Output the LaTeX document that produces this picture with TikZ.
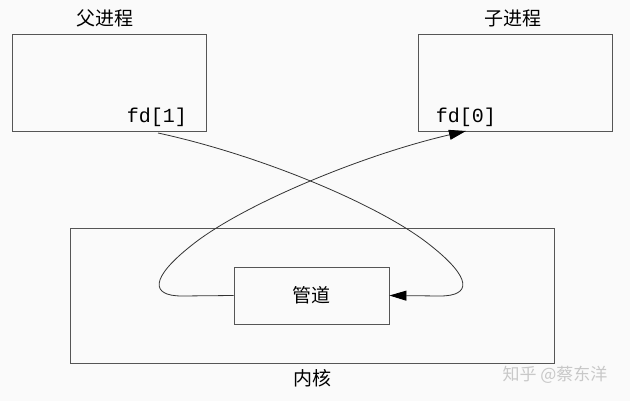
\documentclass[tikz,border=0pt]{standalone}
\usepackage{fontspec}
\setmonofont{Liberation Mono}
\newfontfamily\cjk{Noto Sans CJK SC}
\usetikzlibrary{arrows.meta}
\definecolor{bg}{HTML}{FAFAFA}
\definecolor{edge}{HTML}{555555}
\definecolor{mark}{HTML}{C8C8C8}
\begin{document}
\begin{tikzpicture}[x=1pt,y=-1pt,
  box/.style={draw=edge,line width=0.9pt},
  cn/.style={font=\cjk\fontsize{19}{22}\selectfont,inner sep=0pt},
  fdtxt/.style={font=\ttfamily\fontsize{20}{22}\selectfont,inner sep=0pt},
  flow/.style={draw=black!80,line width=0.8pt},
  tip/.style={-{Triangle[length=17pt,width=10pt,color=black]}}]
  \fill[bg] (0,0) rectangle (630,401);
  \useasboundingbox (0,0) rectangle (630,401);
  % process boxes
  \draw[box] (12,34) rectangle (206,131);
  \draw[box] (418,34) rectangle (612,131);
  \node[cn] (parent) at (105,18) {父进程};
  \node[cn] (child) at (513,18) {子进程};
  \node[fdtxt] (fd1) at (157,117) {fd[1]};
  \node[fdtxt] (fd0) at (466,117) {fd[0]};
  \coordinate (fd1s) at (158,133);
  \coordinate (fd0e) at (466,131);
  % kernel and pipe
  \draw[box] (70,228) rectangle (554,363);
  \node[cn] (kernel) at (312,378) {内核};
  \node[box,minimum width=155pt,minimum height=57pt,inner sep=0pt] (pipe) at (311.5,295.5) {};
  \node[cn] (pipetxt) at (pipe.center) {管道};
  % data flow: write end into the pipe, read end out to the child
  \draw[flow,tip] (fd1s) .. controls (260,155) and (380,205) .. (430,245)
     .. controls (472,278) and (472,296) .. (440,296) -- (pipe.east);
  \draw[flow,tip] (pipe.west) -- (182,296) .. controls (150,296) and (150,278) .. (192,245)
     .. controls (242,205) and (362,155) .. (fd0e);
  % watermark
  \node[font=\cjk\fontsize{17}{20}\selectfont,text=mark,inner sep=0pt] (wm) at (555,375) {知乎 @蔡东洋};
\end{tikzpicture}
\end{document}
